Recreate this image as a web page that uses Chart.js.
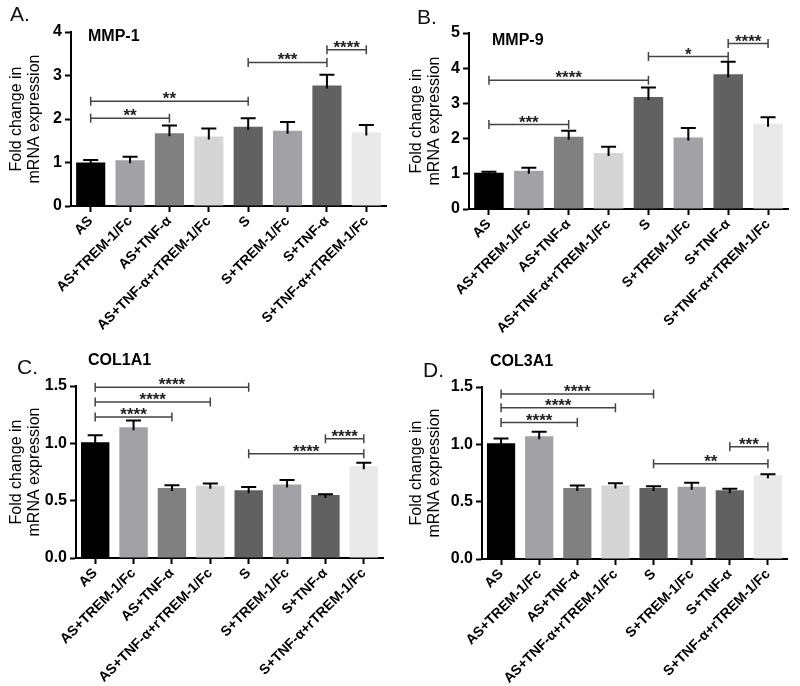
<!DOCTYPE html>
<html><head><meta charset="utf-8">
<script src="https://cdn.jsdelivr.net/npm/chart.js@4/dist/chart.umd.min.js"></script>
<style>
html,body{margin:0;padding:0;background:#fff;width:800px;height:686px;overflow:hidden;font-family:'Liberation Sans',Arial,sans-serif}
canvas{position:absolute}
.lbl{position:absolute;font-size:21px;line-height:21px;color:#111;white-space:nowrap}
.ttl{position:absolute;font-size:16px;font-weight:bold;line-height:16px;color:#000;white-space:nowrap}
</style></head><body>
<canvas id="cA" width="400" height="343" style="left:0;top:0;width:400px;height:343px"></canvas>
<canvas id="cB" width="400" height="343" style="left:400px;top:0;width:400px;height:343px"></canvas>
<canvas id="cC" width="400" height="343" style="left:0;top:343px;width:400px;height:343px"></canvas>
<canvas id="cD" width="400" height="343" style="left:400px;top:343px;width:400px;height:343px"></canvas>
<div class="lbl" style="left:10px;top:3px">A.</div>
<div class="lbl" style="left:417px;top:6px">B.</div>
<div class="lbl" style="left:17px;top:356px">C.</div>
<div class="lbl" style="left:423px;top:359px">D.</div>
<div class="ttl" style="left:88px;top:28px">MMP-1</div>
<div class="ttl" style="left:492px;top:32px">MMP-9</div>
<div class="ttl" style="left:88px;top:352px">COL1A1</div>
<div class="ttl" style="left:490px;top:353px">COL3A1</div>
<script>
const categories = ['AS','AS+TREM-1/Fc','AS+TNF-α','AS+TNF-α+rTREM-1/Fc','S','S+TREM-1/Fc','S+TNF-α','S+TNF-α+rTREM-1/Fc'];

const mmp1Mean = [1.00,1.05,1.67,1.60,1.82,1.73,2.77,1.69];
const mmp1Sem  = [0.06,0.08,0.18,0.18,0.20,0.20,0.25,0.17];
const mmp9Mean = [1.03,1.09,2.05,1.59,3.18,2.03,3.83,2.42];
const mmp9Sem  = [0.03,0.08,0.17,0.18,0.27,0.27,0.35,0.19];
const col1a1Mean = [1.01,1.14,0.61,0.63,0.59,0.64,0.55,0.80];
const col1a1Sem  = [0.06,0.06,0.025,0.02,0.03,0.04,0.006,0.03];
const col3a1Mean = [1.01,1.07,0.62,0.64,0.62,0.63,0.60,0.73];
const col3a1Sem  = [0.04,0.04,0.02,0.02,0.015,0.035,0.012,0.01];

// significance brackets: [from index, to index, height, label]
const mmp1Sig = [[0,2,2.02,'**'],[0,4,2.41,'**'],[4,6,3.30,'***'],[6,7,3.59,'****']];
const mmp9Sig = [[0,2,2.40,'***'],[0,4,3.66,'****'],[4,6,4.33,'*'],[6,7,4.70,'****']];
const col1a1Sig = [[0,4,1.49,'****'],[0,3,1.36,'****'],[0,2,1.23,'****'],[6,7,1.04,'****'],[4,7,0.91,'****']];
const col3a1Sig = [[0,4,1.44,'****'],[0,3,1.32,'****'],[0,2,1.19,'****'],[6,7,0.98,'***'],[4,7,0.83,'**']];

const mmpTicksMax = [4,5];
const colTicksMax = 1.5;

const barColors = ['#000000','#a2a2a6','#808080','#d5d5d5','#616161','#a2a2a6','#616161','#e9e9e9'];

Chart.defaults.font.family = "'Liberation Sans', Arial, sans-serif";
Chart.defaults.color = '#000';

function makeChart(id, mean, sem, sig, yMax, yStep, decimals, area) {
  const W = 400, H = 343;
  const overlay = {
    id: 'overlay_' + id,
    afterDatasetsDraw(chart) {
      const ctx = chart.ctx, xs = chart.scales.x, ys = chart.scales.y;
      ctx.save();
      // error bars
      ctx.strokeStyle = '#000'; ctx.lineWidth = 2;
      mean.forEach((m, i) => {
        const x = xs.getPixelForValue(i);
        const y0 = ys.getPixelForValue(m), y1 = ys.getPixelForValue(m + sem[i]);
        ctx.beginPath();
        ctx.moveTo(x, y0 + 3); ctx.lineTo(x, y1);
        ctx.moveTo(x - 7.5, y1); ctx.lineTo(x + 7.5, y1);
        ctx.stroke();
      });
      // brackets
      ctx.strokeStyle = '#444'; ctx.lineWidth = 1.5; ctx.fillStyle = '#222';
      ctx.font = "bold 17px 'Liberation Sans', Arial, sans-serif";
      ctx.textAlign = 'center'; ctx.textBaseline = 'alphabetic';
      sig.forEach(([a, b, h, t]) => {
        const x1 = xs.getPixelForValue(a), x2 = xs.getPixelForValue(b), y = ys.getPixelForValue(h);
        ctx.beginPath();
        ctx.moveTo(x1, y); ctx.lineTo(x2, y);
        ctx.moveTo(x1, y - 4.5); ctx.lineTo(x1, y + 4.5);
        ctx.moveTo(x2, y - 4.5); ctx.lineTo(x2, y + 4.5);
        ctx.stroke();
        ctx.fillText(t, (x1 + x2) / 2, y + 3);
      });
      ctx.restore();
    }
  };
  return new Chart(document.getElementById(id), {
    type: 'bar',
    data: {
      labels: categories,
      datasets: [{ data: mean, backgroundColor: barColors, borderWidth: 0, barPercentage: 0.74, categoryPercentage: 1 }]
    },
    options: {
      responsive: false, animation: false, devicePixelRatio: 1,
      layout: { padding: { left: 0, top: area.top, right: W - area.right, bottom: 0 } },
      plugins: { legend: { display: false }, tooltip: { enabled: false } },
      scales: {
        x: {
          offset: true,
          grid: { display: true, offset: false, drawOnChartArea: false, drawTicks: true, tickLength: 6, tickColor: '#000', tickWidth: 2, color: '#000' },
          border: { display: true, color: '#000', width: 2 },
          ticks: { autoSkip: false, maxRotation: 45, minRotation: 45, padding: 1, color: '#000', font: { size: 14, weight: 'bold' } },
          afterFit(s) { s.height = H - area.bottom; }
        },
        y: {
          min: 0, max: yMax,
          grid: { display: true, drawOnChartArea: false, drawTicks: true, tickLength: 6, tickColor: '#000', tickWidth: 2, color: '#000' },
          border: { display: true, color: '#000', width: 2 },
          ticks: { stepSize: yStep, padding: 3, color: '#000', font: { size: 16, weight: 'bold' },
                   callback: v => Number(v).toFixed(decimals) },
          title: { display: true, text: ['Fold change in', 'mRNA expression'], color: '#000',
                   font: { size: 16, weight: 'normal', lineHeight: 1.15 }, padding: { top: 7, bottom: 0 } },
          afterFit(s) { s.width = area.left; }
        }
      }
    },
    plugins: [overlay]
  });
}

makeChart('cA', mmp1Mean, mmp1Sem, mmp1Sig, mmpTicksMax[0], 1, 0, { left: 71, top: 32, right: 386, bottom: 206 });
makeChart('cB', mmp9Mean, mmp9Sem, mmp9Sig, mmpTicksMax[1], 1, 0, { left: 69, top: 33, right: 388, bottom: 209 });
makeChart('cC', col1a1Mean, col1a1Sem, col1a1Sig, colTicksMax, 0.5, 1, { left: 76, top: 43, right: 383, bottom: 215 });
makeChart('cD', col3a1Mean, col3a1Sem, col3a1Sig, colTicksMax, 0.5, 1, { left: 82, top: 44, right: 387, bottom: 216 });
</script>
</body></html>
